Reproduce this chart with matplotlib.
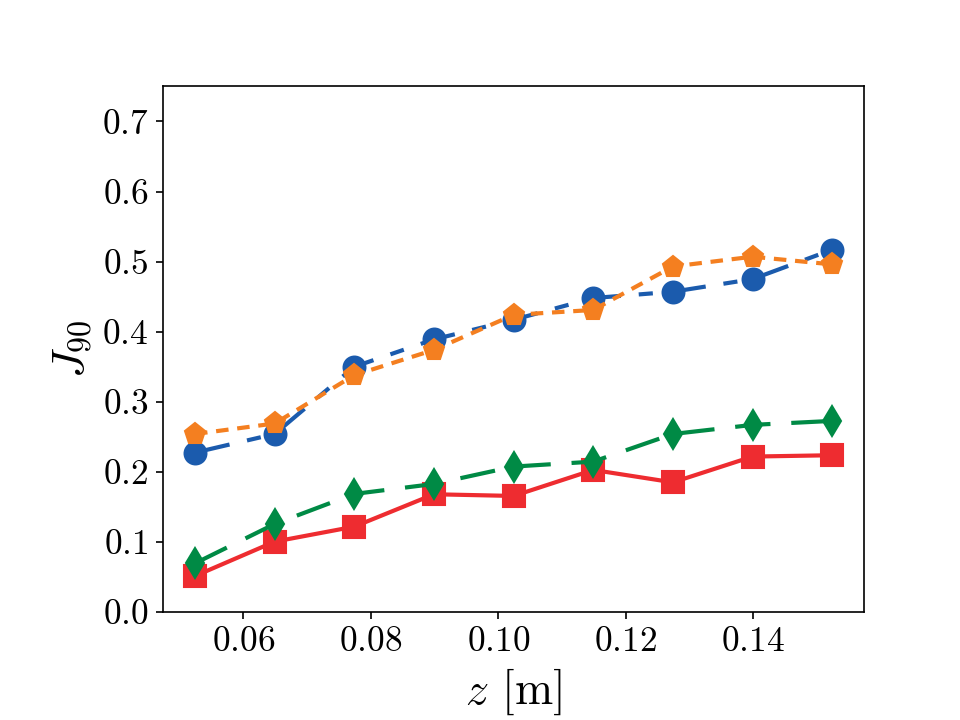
import matplotlib
matplotlib.use("Agg")
import matplotlib.pyplot as plt

plt.rcParams["font.family"] = "serif"
plt.rcParams["font.serif"] = ["cmr10"]
plt.rcParams["mathtext.fontset"] = "cm"
plt.rcParams["axes.formatter.use_mathtext"] = True
plt.rcParams["axes.unicode_minus"] = False

# distance along z [m]
z = [0.0524, 0.0649, 0.0774, 0.0899, 0.1024, 0.1149, 0.1274, 0.1399, 0.1524]

# J90 for the four cases
j_blue = [0.2275, 0.254, 0.350, 0.389, 0.417, 0.448, 0.457, 0.475, 0.517]
j_orange = [0.254, 0.269, 0.338, 0.374, 0.424, 0.431, 0.493, 0.507, 0.496]
j_green = [0.0695, 0.1256, 0.1685, 0.1827, 0.2075, 0.2146, 0.254, 0.267, 0.2727]
j_red = [0.0514, 0.1004, 0.1218, 0.168, 0.1656, 0.2027, 0.185, 0.2218, 0.2237]

fig, ax = plt.subplots(figsize=(6.4, 4.8), dpi=150)
fig.subplots_adjust(left=0.17, bottom=0.15, right=0.9, top=0.88)

lw = 2.0
ms = 10.5
ax.plot(z, j_red, '-s', color='#ee2c30', lw=lw, ms=ms)
ax.plot(z, j_green, 'd', ls=(0, (8.5, 5)), color='#008a45', lw=lw, ms=ms)
ax.plot(z, j_blue, 'o', ls=(0, (8.5, 4.3, 3.4, 4.3)), color='#1b5bad', lw=lw, ms=ms)
ax.plot(z, j_orange, 'p', ls=(0, (3, 2.1)), color='#f47f20', lw=lw, ms=ms)

ax.set_ylim(0, 0.75)
ax.set_xticks([0.06, 0.08, 0.10, 0.12, 0.14])
ax.set_yticks([0.0, 0.1, 0.2, 0.3, 0.4, 0.5, 0.6, 0.7])
ax.tick_params(labelsize=17)

ax.set_xlabel(r"$z$ [m]", fontsize=22)
ax.set_ylabel(r"$J_{90}$", fontsize=22)

fig.savefig("out.png", dpi=150)
